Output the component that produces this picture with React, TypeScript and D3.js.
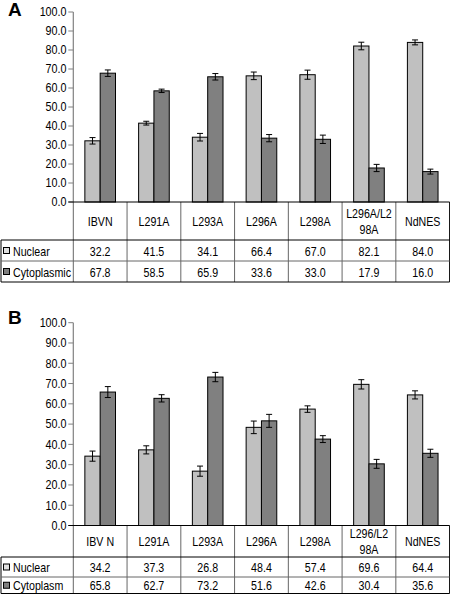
import React from "react";
import * as d3 from "d3";

const categoriesA = ["IBVN", "L291A", "L293A", "L296A", "L298A", "L296A/L2\n98A", "NdNES"];
const nuclearA = [32.2, 41.5, 34.1, 66.4, 67.0, 82.1, 84.0];
const cytoA = [67.8, 58.5, 65.9, 33.6, 33.0, 17.9, 16.0];
const nuclearErrA = [1.7, 1.0, 2.0, 2.0, 2.4, 2.0, 1.3];
const cytoErrA = [1.7, 0.9, 1.7, 1.9, 2.2, 1.9, 1.3];

const categoriesB = ["IBV N", "L291A", "L293A", "L296A", "L298A", "L296/L2\n98A", "NdNES"];
const nuclearB = [34.2, 37.3, 26.8, 48.4, 57.4, 69.6, 64.4];
const cytoB = [65.8, 62.7, 73.2, 51.6, 42.6, 30.4, 35.6];
const nuclearErrB = [2.5, 2.0, 2.5, 3.1, 1.6, 2.3, 2.0];
const cytoErrB = [2.7, 1.8, 2.3, 3.2, 1.7, 2.2, 2.0];

const seriesNamesA = ["Nuclear", "Cytoplasmic"];
const seriesNamesB = ["Nuclear", "Cytoplasm"];
const yTicks = [0, 10, 20, 30, 40, 50, 60, 70, 80, 90, 100];

const NUC_FILL = "#c0c0c0";
const CYT_FILL = "#808080";
const FONT = "'Liberation Sans', Arial, sans-serif";
const TS = 13;
const TSX = 0.82;

type PanelProps = {
  letter: string;
  letterY: number;
  yTop: number;
  yBottom: number;
  rowYs: number[];
  categories: string[];
  nuc: number[];
  cyt: number[];
  nucErr: number[];
  cytErr: number[];
  names: string[];
};

function SText(props: { x: number; y: number; anchor?: string; size: number; sx: number; children: React.ReactNode; weight?: string }) {
  const { x, y, anchor = "middle", size, sx, children, weight } = props;
  return (
    <text
      transform={`translate(${x},${y}) scale(${sx},1)`}
      textAnchor={anchor}
      fontSize={size}
      fontFamily={FONT}
      fontWeight={weight}
      fill="#000"
    >
      {children}
    </text>
  );
}

function Panel(p: PanelProps) {
  const left = 73.3;
  const right = 449.6;
  const x = d3.scaleBand<string>().domain(p.categories).range([left, right]).padding(0);
  const bw = x.bandwidth();
  const sub = d3.scaleBand<string>().domain(["n", "c"]).range([bw * 0.215, bw * 0.785]).padding(0);
  const y = d3.scaleLinear().domain([0, 100]).range([p.yBottom, p.yTop]);
  const [r0, r1, r2, r3] = p.rowYs;
  const cap = 3;

  const bars = p.categories.map((c, i) => {
    const x0 = (x(c) as number);
    const items = [
      { k: "n", v: p.nuc[i], e: p.nucErr[i], fill: NUC_FILL },
      { k: "c", v: p.cyt[i], e: p.cytErr[i], fill: CYT_FILL },
    ];
    return items.map((it) => {
      const bx = x0 + (sub(it.k) as number);
      const w = sub.bandwidth();
      const cx = bx + w / 2;
      return (
        <g key={c + it.k}>
          <rect x={bx} y={y(it.v)} width={w} height={y(0) - y(it.v)} fill={it.fill} stroke="#000" strokeWidth={1} />
          <line x1={cx} x2={cx} y1={y(it.v + it.e)} y2={y(it.v - it.e)} stroke="#000" strokeWidth={1} />
          <line x1={cx - cap} x2={cx + cap} y1={y(it.v + it.e)} y2={y(it.v + it.e)} stroke="#000" strokeWidth={1} />
          <line x1={cx - cap} x2={cx + cap} y1={y(it.v - it.e)} y2={y(it.v - it.e)} stroke="#000" strokeWidth={1} />
        </g>
      );
    });
  });

  const gridColor = "#666";
  return (
    <g>
      <SText x={8} y={p.letterY} anchor="start" size={19} sx={1} weight="bold">{p.letter}</SText>
      <line x1={left} x2={left} y1={p.yTop} y2={p.yBottom} stroke="#808080" strokeWidth={1.2} />
      {yTicks.map((t) => (
        <g key={t}>
          <line x1={left - 5} x2={left} y1={y(t)} y2={y(t)} stroke="#808080" strokeWidth={1} />
          <SText x={66.5} y={y(t) + 4.3} anchor="end" size={12.5} sx={0.86}>{t.toFixed(1)}</SText>
        </g>
      ))}
      {bars}
      {p.categories.map((c, i) => {
        const xx = (x(c) as number) + bw;
        return i < p.categories.length - 1 ? (
          <line key={"v" + c} x1={xx} x2={xx} y1={r0} y2={r3} stroke={gridColor} strokeWidth={1} />
        ) : null;
      })}
      <line x1={left} x2={left} y1={r0} y2={r3} stroke={gridColor} strokeWidth={1} />
      <line x1={1} x2={1} y1={r1} y2={r3} stroke="#000" strokeWidth={1} />
      <line x1={right} x2={right} y1={r0} y2={r3} stroke="#000" strokeWidth={1} />
      <line x1={1} x2={right} y1={r1} y2={r1} stroke="#000" strokeWidth={1} />
      <line x1={1} x2={right} y1={r2} y2={r2} stroke={gridColor} strokeWidth={1} />
      <line x1={1} x2={right} y1={r3} y2={r3} stroke="#000" strokeWidth={1} />
      <line x1={left - 5} x2={right} y1={r0} y2={r0} stroke="#000" strokeWidth={1} />
      {p.categories.map((c) => {
        const cx = (x(c) as number) + bw / 2;
        const lines = c.split("\n");
        const mid = (r0 + r1) / 2;
        if (lines.length === 1) {
          return <SText key={"c" + c} x={cx} y={mid + 5} size={TS} sx={TSX}>{c}</SText>;
        }
        return (
          <g key={"c" + c}>
            <SText x={cx} y={mid - 3} size={TS} sx={TSX}>{lines[0]}</SText>
            <SText x={cx} y={mid + 13} size={TS} sx={TSX}>{lines[1]}</SText>
          </g>
        );
      })}
      {[0, 1].map((k) => {
        const top = k === 0 ? r1 : r2;
        const bot = k === 0 ? r2 : r3;
        const mid = (top + bot) / 2;
        return (
          <g key={"lg" + k}>
            <rect x={3.5} y={mid - 3} width={6} height={6} fill={k === 0 ? "#e0e0e0" : CYT_FILL} stroke="#000" strokeWidth={1} />
            <SText x={13} y={mid + 5} anchor="start" size={TS} sx={TSX}>{p.names[k]}</SText>
          </g>
        );
      })}
      {p.categories.map((c, i) => {
        const cx = (x(c) as number) + bw / 2;
        return (
          <g key={"val" + c}>
            <SText x={cx} y={(r1 + r2) / 2 + 5} size={TS} sx={TSX}>{p.nuc[i].toFixed(1)}</SText>
            <SText x={cx} y={(r2 + r3) / 2 + 5} size={TS} sx={TSX}>{p.cyt[i].toFixed(1)}</SText>
          </g>
        );
      })}
    </g>
  );
}

export default function App() {
  return (
    <svg width={450} height={595} style={{ position: "absolute", left: 0, top: 0, background: "#fff" }}>
      <rect x={0} y={0} width={450} height={595} fill="#fff" />
      <Panel
        letter="A"
        letterY={16}
        yTop={12}
        yBottom={202}
        rowYs={[202, 240, 261, 282]}
        categories={categoriesA}
        nuc={nuclearA}
        cyt={cytoA}
        nucErr={nuclearErrA}
        cytErr={cytoErrA}
        names={seriesNamesA}
      />
      <Panel
        letter="B"
        letterY={324}
        yTop={322.7}
        yBottom={525.5}
        rowYs={[525.5, 557, 577, 593.5]}
        categories={categoriesB}
        nuc={nuclearB}
        cyt={cytoB}
        nucErr={nuclearErrB}
        cytErr={cytoErrB}
        names={seriesNamesB}
      />
    </svg>
  );
}
